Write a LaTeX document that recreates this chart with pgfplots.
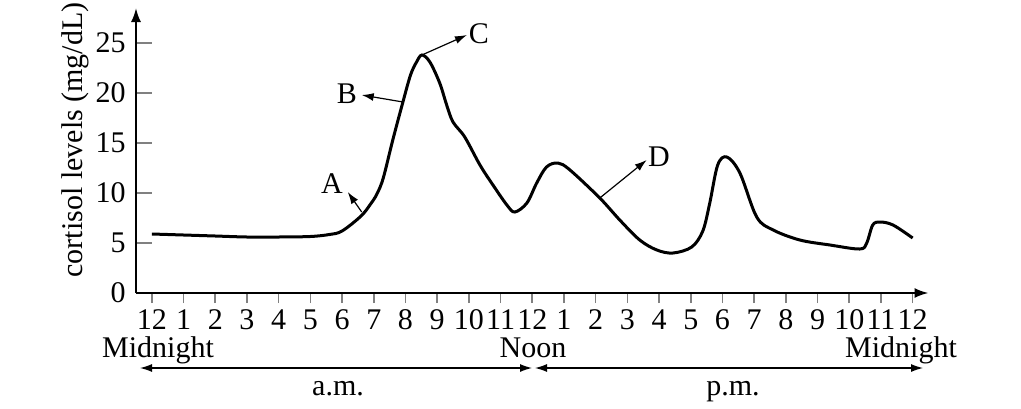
\documentclass[border=0pt]{standalone}
\usepackage{fontspec}
\setmainfont{Liberation Serif}
\usepackage{pgfplots}
\pgfplotsset{compat=1.18}
\usetikzlibrary{arrows.meta}
\pgfplotstableread{
h v
0 5.9
1 5.8
2 5.7
3 5.6
4 5.6
5 5.65
5.6 5.85
6 6.2
6.6 7.7
6.9 8.9
7.1 9.9
7.3 11.5
7.6 15.3
7.92 19.1
8.16 21.8
8.35 23.1
8.52 23.8
8.77 23.1
9.08 21.0
9.3 18.8
9.5 17.1
9.87 15.6
10.35 12.8
10.76 10.8
11.2 8.8
11.45 8.1
11.83 9.0
12.14 11.0
12.45 12.6
12.81 13.0
13.19 12.3
14.13 9.5
14.76 7.3
15.39 5.3
15.93 4.3
16.44 4.0
17.03 4.6
17.38 6.2
17.6 9.0
17.85 12.8
18.14 13.6
18.55 12.0
19.08 7.6
19.6 6.3
20.44 5.3
21.39 4.8
22.33 4.4
22.55 5.0
22.74 6.8
22.97 7.1
23.38 6.8
24.0 5.5
}\cortisol
\begin{document}
\fontsize{15}{17}\selectfont
\begin{tikzpicture}
\useasboundingbox (0,0) rectangle (510.5pt,204pt);
\begin{axis}[
  at={(68pt,57.5pt)}, anchor=south west,
  x=15.85pt, y=5pt,
  xmin=-0.5, xmax=24.5, ymin=0, ymax=28.5,
  axis lines=left,
  axis line style={line width=1pt, -{Latex[length=7pt,width=5pt]}},
  xtick={0,...,24},
  xticklabels={12,1,2,3,4,5,6,7,8,9,10,11,12,1,2,3,4,5,6,7,8,9,10,11,12},
  ytick={0,5,...,25},
  xtick align=outside,
  ytick align=inside,
  xtick style={line width=0.8pt, /pgfplots/major tick length=5pt},
  ytick style={line width=0.8pt, /pgfplots/major tick length=8pt},
  tick label style={font=\fontsize{15}{17}\selectfont},
  xticklabel style={inner sep=0pt, anchor=north, yshift=-4pt},
  /pgf/number format/assume math mode=true,
  clip=false,
]
\addplot[black, line width=1.5pt, smooth, tension=0.55] table[x=h,y=v] {\cortisol};
\draw[line width=0.6pt, -{Latex[length=6pt,width=4pt]}] (axis cs:6.62,8.1) -- (axis cs:6.18,10.1);
\node at (axis cs:5.68,10.9) {A};
\draw[line width=0.6pt, -{Latex[length=6pt,width=4pt]}] (axis cs:7.92,19.1) -- (axis cs:6.62,19.8);
\node at (axis cs:6.15,19.9) {B};
\draw[line width=0.6pt, -{Latex[length=6pt,width=4pt]}] (axis cs:8.52,23.8) -- (axis cs:9.94,25.8);
\node at (axis cs:10.32,25.9) {C};
\draw[line width=0.6pt, -{Latex[length=6pt,width=4pt]}] (axis cs:14.13,9.5) -- (axis cs:15.61,13.3);
\node at (axis cs:16.0,13.6) {D};
\end{axis}
\node[rotate=90] at (37.5pt,134pt) {cortisol levels (mg/dL)};
\node[inner sep=0pt, anchor=base] at (79pt,25.5pt) {Midnight};
\node[inner sep=0pt, anchor=base] at (266.5pt,25.5pt) {Noon};
\node[inner sep=0pt, anchor=base] at (450.5pt,25.5pt) {Midnight};
\draw[line width=0.6pt, {Latex[length=6pt,width=4pt]}-{Latex[length=6pt,width=4pt]}] (70pt,20pt) -- (266pt,20pt);
\draw[line width=0.6pt, {Latex[length=6pt,width=4pt]}-{Latex[length=6pt,width=4pt]}] (267.5pt,20pt) -- (461.5pt,20pt);
\node[inner sep=0pt, anchor=base] at (169pt,6.5pt) {a.m.};
\node[inner sep=0pt, anchor=base] at (366.5pt,6.5pt) {p.m.};
\end{tikzpicture}
\end{document}
